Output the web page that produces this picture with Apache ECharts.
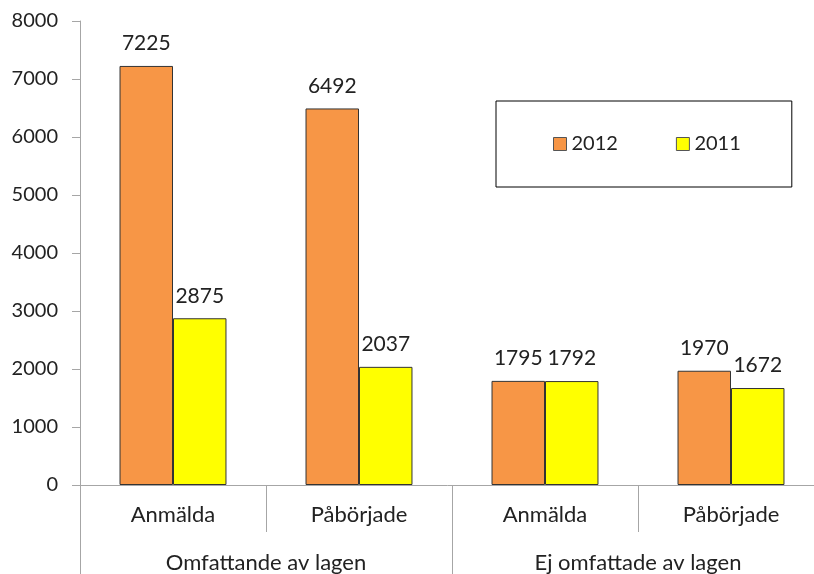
<!DOCTYPE html>
<html>
<head>
<meta charset="utf-8">
<script src="https://cdn.jsdelivr.net/npm/echarts@6/dist/echarts.min.js"></script>
<style>
  html, body { margin: 0; padding: 0; background: #fff; }
  #chart { width: 814px; height: 574px; }
</style>
</head>
<body>
<div id="chart"></div>
<script>
var categories = ["Anmälda", "Påbörjade", "Anmälda", "Påbörjade"];
var groups = ["Omfattande av lagen", "Ej omfattade av lagen"];
var seriesNames = ["2012", "2011"];
var values2012 = [7225, 6492, 1795, 1970];
var values2011 = [2875, 2037, 1792, 1672];

var font = "Lato, 'Open Sans', sans-serif";
var axisGrey = "#a6a6a6";

var chart = echarts.init(document.getElementById("chart"));

function barSeries(name, data, color) {
  return {
    name: name,
    type: "bar",
    xAxisIndex: 0,
    data: data,
    barGap: "0%",
    barCategoryGap: "42.5%",
    itemStyle: {
      color: color,
      borderColor: "#333",
      borderWidth: 1
    },
    label: {
      show: true,
      position: "top",
      distance: 12,
      fontFamily: font,
      fontSize: 21,
      color: "#222"
    }
  };
}

chart.setOption({
  backgroundColor: "#fff",
  animation: false,
  legend: {
    data: seriesNames,
    left: 496,
    top: 101,
    orient: "horizontal",
    padding: [33, 51, 33, 57],
    itemGap: 58,
    itemWidth: 13,
    itemHeight: 13,
    icon: "rect",
    borderColor: "#000",
    borderWidth: 1,
    textStyle: {
      fontFamily: font,
      fontSize: 20,
      color: "#222"
    },
    itemStyle: {
      borderColor: "#555",
      borderWidth: 1
    }
  },
  grid: {
    left: 80,
    top: 21,
    width: 744,
    height: 464,
    containLabel: false,
    outerBoundsMode: "none"
  },
  xAxis: [
    {
      type: "category",
      data: categories,
      position: "bottom",
      axisLine: { lineStyle: { color: axisGrey, width: 1 } },
      axisTick: {
        show: true,
        length: 47,
        interval: 0,
        lineStyle: { color: axisGrey }
      },
      axisLabel: {
        interval: 0,
        margin: 19,
        fontFamily: font,
        fontSize: 22,
        color: "#222"
      }
    },
    {
      type: "category",
      data: groups,
      position: "bottom",
      offset: 0,
      axisLine: { show: false },
      axisTick: {
        show: true,
        length: 89,
        interval: 0,
        lineStyle: { color: axisGrey }
      },
      axisLabel: {
        interval: 0,
        margin: 67,
        fontFamily: font,
        fontSize: 22,
        color: "#222"
      }
    }
  ],
  yAxis: {
    type: "value",
    min: 0,
    max: 8000,
    interval: 1000,
    axisLine: { show: true, lineStyle: { color: axisGrey } },
    axisTick: { show: true, length: 8, lineStyle: { color: axisGrey } },
    splitLine: { show: false },
    axisLabel: {
      margin: 22,
      fontFamily: font,
      fontSize: 20,
      color: "#222",
      formatter: function (v) { return String(v); }
    }
  },
  series: [
    barSeries(seriesNames[0], values2012, "#F79646"),
    barSeries(seriesNames[1], values2011, "#FFFF00")
  ]
});
</script>
</body>
</html>
